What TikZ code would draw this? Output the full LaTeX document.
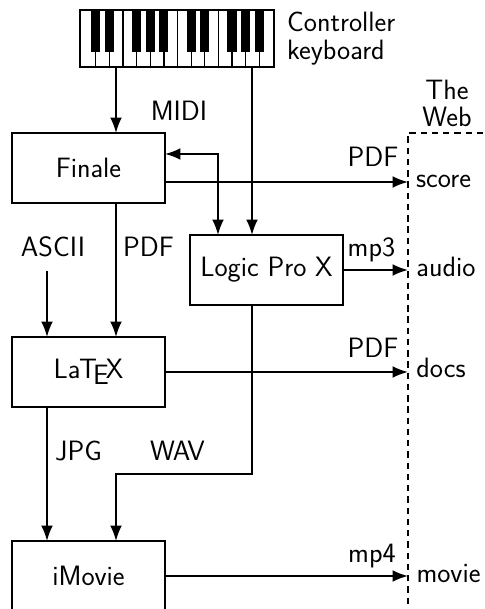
\documentclass[tikz,border=0pt]{standalone}
\usepackage{tikz}
\usetikzlibrary{arrows.meta,positioning,calc}

\newcommand{\texlogo}{La\kern-0.05em T\kern-0.14em\lower0.22em\hbox{E}\kern-0.1em X}

\tikzset{
    progbox/.style={draw,line width=1.4pt,outer sep=0pt,minimum width=3.825cm,minimum height=1.75cm},
    flow/.style={line width=1.4pt,-{Latex[length=11pt,width=8.5pt]}},
    lbl/.style={inner sep=0pt,align=center,anchor=base}
}

\begin{document}
\begin{tikzpicture}[font=\sffamily\fontsize{19.9}{19.5}\selectfont]
    \useasboundingbox (0,0) rectangle (12.1,15.225);
    \clip (0,0) rectangle (12.1,15.225);

    % Keyboard
    \node[draw,line width=1.4pt,outer sep=0pt,minimum width=4.85cm,minimum height=1.425cm] (keys) at (4.425,14.2625) {};
    \foreach \k in {1,...,13} {
        \draw[line width=0.9pt] ($(keys.south west)+(\k*0.3408+0.052,0)$) -- ++(0,1.425);
    }
    \foreach \k in {1,2,4,5,6,8,9,11,12,13} {
        \fill ($(keys.north west)+(\k*0.3408+0.052-0.115,0)$) rectangle ++(0.23,-1.05);
    }
    \node[lbl,align=left,anchor=west] (ctrl) at (7.17,14.26) {Controller\\keyboard};

    % Programs
    \node[progbox] (finale) at (2.2125,11.025) {Finale};
    \node[progbox] (logic) at (6.6625,8.475) {Logic Pro X};
    \node[progbox] (latex) at (2.2125,5.925) {\texlogo};
    \node[progbox] (imovie) at (2.2125,0.825) {iMovie};

    % The web
    \node[draw,dashed,dash pattern=on 4.5pt off 3.5pt,line width=1.4pt,outer sep=0pt,anchor=north west,minimum width=4cm,minimum height=13cm] (web) at (10.2,11.9) {};
    \node[lbl,anchor=center] (webtitle) at (11.175,12.64) {The\\Web};
    \node[lbl] (score) at (11.0875,10.525) {score};
    \node[lbl] (audio) at (11.15,8.3) {audio};
    \node[lbl] (docs) at (11.025,5.775) {docs};
    \node[lbl] (movie) at (11.2125,0.65) {movie};

    % Positions of the vertical runs
    \coordinate (left) at (1.175,0);
    \coordinate (mid) at (2.9,0);
    \coordinate (back) at (5.45,0);
    \coordinate (right) at (6.3,0);
    \coordinate (ascii) at (1.175,8.45);
    \coordinate (bend) at (0,3.375);

    % Arrows
    \draw[flow] (keys.south -| mid) -- (finale.north -| mid);
    \draw[flow] (keys.south -| right) -- (logic.north -| right);
    \draw[line width=1.4pt,{Latex[length=11pt,width=8.5pt]}-{Latex[length=11pt,width=8.5pt]}] (finale.east |- 0,11.375) -| (logic.north -| back);
    \draw[flow] (finale.east |- 0,10.675) -- (web.west |- 0,10.675);
    \draw[flow] (finale.south -| mid) -- (latex.north -| mid);
    \draw[flow] (ascii) -- (latex.north -| ascii);
    \draw[flow] (logic.east) -- (web.west |- logic.east);
    \draw[flow] (latex.east) -- (web.west |- latex.east);
    \draw[flow] (latex.south -| left) -- (imovie.north -| left);
    \draw[flow] (logic.south -| right) |- (mid |- bend) -- (imovie.north -| mid);
    \draw[flow] (imovie.east) -- (web.west |- imovie.east);

    % Labels
    \node[lbl] (midi) at (4.475,12.2) {MIDI};
    \node[lbl] (pdfa) at (9.325,11.05) {PDF};
    \node[lbl] (asciilbl) at (1.325,8.8) {ASCII};
    \node[lbl] (pdfb) at (3.7125,8.8) {PDF};
    \node[lbl] (mpa) at (9.2875,8.8) {mp3};
    \node[lbl] (pdfc) at (9.325,6.275) {PDF};
    \node[lbl] (jpg) at (1.9625,3.7) {JPG};
    \node[lbl] (wav) at (4.4375,3.7) {WAV};
    \node[lbl] (mpb) at (9.3,1.15) {mp4};
\end{tikzpicture}
\end{document}
